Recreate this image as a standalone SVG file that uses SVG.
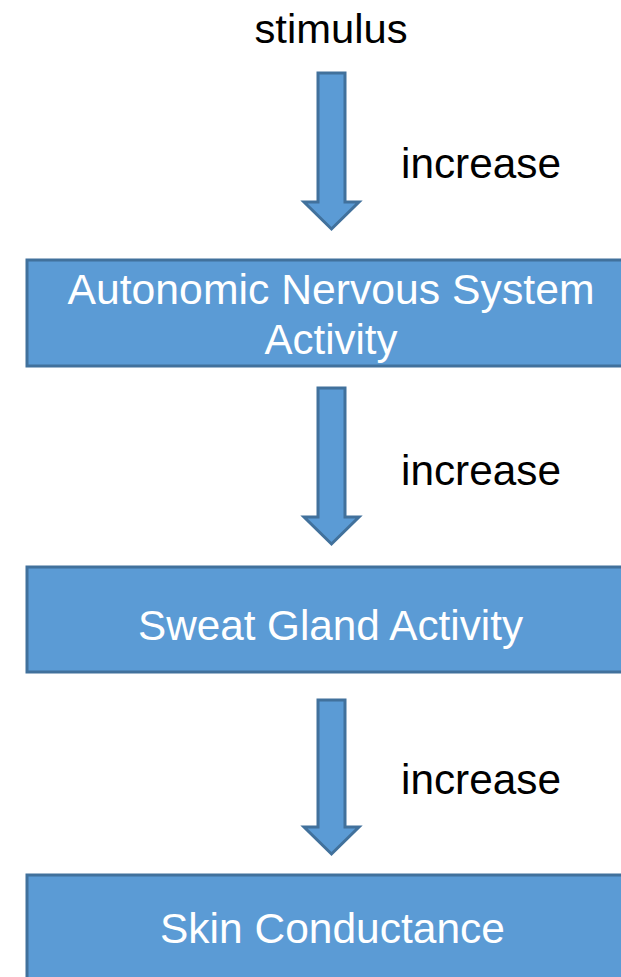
<svg xmlns="http://www.w3.org/2000/svg" width="621" height="977" viewBox="0 0 621 977">
<style>
.box{fill:#5B9BD5;stroke:#41719C;stroke-width:3}
.arrow{fill:#5B9BD5;stroke:#41719C;stroke-width:3;stroke-linejoin:miter}
.bt{font-family:"Liberation Sans",Arial,sans-serif;font-size:42px;fill:#FFFFFF;text-anchor:middle}
.lt{font-family:"Liberation Sans",Arial,sans-serif;font-size:42px;fill:#000000}
</style>
<rect width="621" height="977" fill="#FFFFFF"/>
<g id="stimulus">
<text x="331" y="43" font-family="Liberation Sans, Arial, sans-serif" font-size="40" text-anchor="middle" fill="#000000" textLength="153" lengthAdjust="spacingAndGlyphs">stimulus</text>
</g>
<g id="connectors">
<path class="arrow" d="M318,73 H345 V202 H359 L331.5,229 L304,202 H318 Z"/>
<path class="arrow" d="M318,388 H345 V517 H359 L331.5,544 L304,517 H318 Z"/>
<path class="arrow" d="M318,700 H345 V827 H359 L331.5,854 L304,827 H318 Z"/>
<text class="lt" x="401" y="178" textLength="160" lengthAdjust="spacingAndGlyphs">increase</text>
<text class="lt" x="401" y="485" textLength="160" lengthAdjust="spacingAndGlyphs">increase</text>
<text class="lt" x="401" y="794" textLength="160" lengthAdjust="spacingAndGlyphs">increase</text>
</g>
<g id="ans">
<rect class="box" x="27" y="260" width="608" height="106"/>
<text class="bt" x="331" y="304" textLength="527" lengthAdjust="spacingAndGlyphs">Autonomic Nervous System</text>
<text class="bt" x="331" y="354">Activity</text>
</g>
<g id="sweat">
<rect class="box" x="27" y="567" width="608" height="105"/>
<text class="bt" x="330.5" y="640" textLength="385" lengthAdjust="spacingAndGlyphs">Sweat Gland Activity</text>
</g>
<g id="skin">
<rect class="box" x="27" y="875" width="608" height="120"/>
<text class="bt" x="332.5" y="943" textLength="345" lengthAdjust="spacingAndGlyphs">Skin Conductance</text>
</g>
</svg>
